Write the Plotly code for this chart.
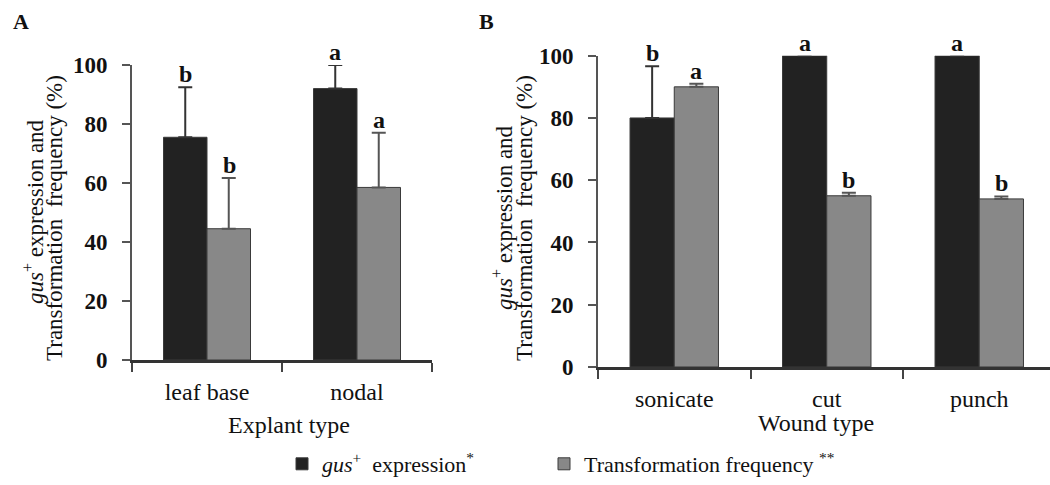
import plotly.graph_objects as go

# ---------------- data ----------------
explant_types = ["leaf base", "nodal"]
gus_A = [75.5, 92.0]
gus_A_err = [17.0, 8.0]
tf_A = [44.5, 58.5]
tf_A_err = [17.2, 18.5]
gus_A_letters = ["b", "a"]
tf_A_letters = ["b", "a"]

wound_types = ["sonicate", "cut", "punch"]
gus_B = [80.0, 100.0, 100.0]
gus_B_err = [16.6, None, None]
tf_B = [90.0, 55.0, 54.0]
tf_B_err = [1.0, 1.0, 0.8]
gus_B_letters = ["b", "a", "a"]
tf_B_letters = ["a", "b", "b"]

y_ticks = [0, 20, 40, 60, 80, 100]

series_names = ["<i>gus</i><sup>+</sup>  expression<sup>*</sup>",
                "Transformation frequency <sup>**</sup>"]

# ---------------- styling ----------------
FONT = "Liberation Serif"
BLACK = "#222222"
GRAY = "#888888"
TXT = "#111111"
W, H = 1050, 485

def px_x(p):
    return p / W

def px_y(p):
    return (H - p) / H

fig = go.Figure()

def add_bars(cats, vals, errs, color, errcolor, name, xa, ya, show, legend):
    fig.add_trace(go.Bar(
        x=cats, y=vals, name=name, xaxis=xa, yaxis=ya,
        marker=dict(color=color, line=dict(color="#3a3a3a", width=1)),
        error_y=dict(type="data", symmetric=False, array=errs,
                     arrayminus=[0] * len(vals), color=errcolor,
                     thickness=2, width=7),
        showlegend=show, legendgroup=name, legend=legend,
    ))

add_bars(explant_types, gus_A, gus_A_err, BLACK, "#333333", series_names[0], "x", "y", True, "legend")
add_bars(explant_types, tf_A, tf_A_err, GRAY, "#555555", series_names[1], "x", "y", True, "legend2")
add_bars(wound_types, gus_B, gus_B_err, BLACK, "#333333", series_names[0], "x2", "y2", False, "legend")
add_bars(wound_types, tf_B, tf_B_err, GRAY, "#555555", series_names[1], "x2", "y2", False, "legend2")

annotations = []

def add_letters(cats, vals, errs, letters, shift, xref, yref):
    for c, v, e, t in zip(cats, vals, errs, letters):
        annotations.append(dict(
            x=c, y=v + (e or 0), xref=xref, yref=yref, text=f"<b>{t}</b>",
            showarrow=False, xshift=shift, yshift=-2, yanchor="bottom",
            xanchor="center",
            font=dict(family=FONT, size=24, color=TXT),
        ))

add_letters(explant_types, gus_A, gus_A_err, gus_A_letters, -22, "x", "y")
add_letters(explant_types, tf_A, tf_A_err, tf_A_letters, 22, "x", "y")
add_letters(wound_types, gus_B, gus_B_err, gus_B_letters, -22, "x2", "y2")
add_letters(wound_types, tf_B, tf_B_err, tf_B_letters, 22, "x2", "y2")

def paper_text(x, y, text, size, angle=0):
    annotations.append(dict(x=px_x(x), y=px_y(y), xref="paper", yref="paper",
                            text=text, showarrow=False, textangle=angle,
                            xanchor="center", yanchor="middle",
                            font=dict(family=FONT, size=size, color=TXT)))

# panel labels
paper_text(21, 22, "<b>A</b>", 22)
paper_text(486, 22, "<b>B</b>", 22)

# y titles (two lines each)
line1 = "<i>gus</i><sup>+</sup> expression and"
line2 = "Transformation  frequency (%)"
for (x1, y1, x2, y2) in ((33, 212, 55, 218), (503, 218, 525, 218)):
    paper_text(x1, y1, line1, 23, -90)
    paper_text(x2, y2, line2, 23, -90)

# x titles
paper_text(289, 425, "Explant type", 24)
paper_text(816, 423, "Wound type", 24)

yaxis_common = dict(range=[0, 100], tickvals=y_ticks, showgrid=False, zeroline=False,
                    showline=True, linecolor="#555555", linewidth=2,
                    ticks="outside", ticklen=8, tickwidth=2, tickcolor="#555555",
                    tickfont=dict(family=FONT, size=23, color=TXT, weight="bold"),
                    ticklabelstandoff=10, fixedrange=True, automargin=False)
xaxis_common = dict(showgrid=False, zeroline=False, showline=True,
                    linecolor="#333333", linewidth=2.5, ticks="outside",
                    ticklen=9, tickwidth=2, tickcolor="#444444", tickson="boundaries",
                    tickfont=dict(family=FONT, size=24, color=TXT),
                    ticklabelstandoff=8, fixedrange=True, automargin=False)

legend_common = dict(orientation="h", xanchor="left", yanchor="middle",
                     font=dict(family=FONT, size=22, color=TXT),
                     bgcolor="rgba(0,0,0,0)")

fig.update_layout(
    width=W, height=H,
    margin=dict(l=0, r=0, t=0, b=0, autoexpand=False),
    paper_bgcolor="white", plot_bgcolor="white",
    barmode="group", bargap=0.42, bargroupgap=0,
    xaxis=dict(domain=[px_x(132), px_x(432)], anchor="y",
               range=[-0.5, 1.5], **xaxis_common),
    yaxis=dict(domain=[px_y(360), px_y(65)], anchor="x", **yaxis_common),
    xaxis2=dict(domain=[px_x(598), 1.0], anchor="y2",
                range=[-0.5, 2.464], **xaxis_common),
    yaxis2=dict(domain=[px_y(367), px_y(55.7)], anchor="x2", **yaxis_common),
    annotations=annotations,
    legend=dict(x=px_x(282), y=px_y(464), **legend_common),
    legend2=dict(x=px_x(544), y=px_y(464), **legend_common),
    font=dict(family=FONT),
)

fig.write_html("out.html",
               config={"displayModeBar": False},
               post_script="document.body.style.margin='0';document.body.style.padding='0';")
